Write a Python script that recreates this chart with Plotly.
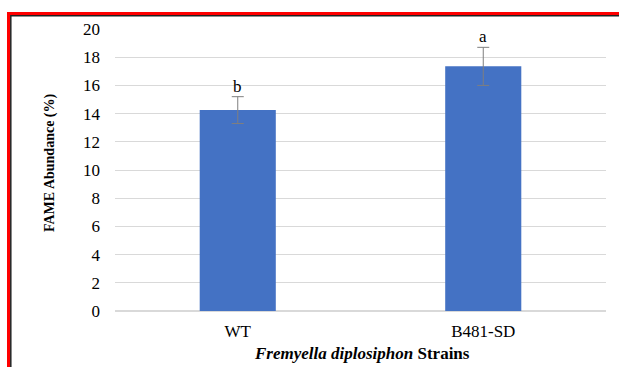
import plotly.graph_objects as go

strains = ["WT", "B481-SD"]
fame = [14.25, 17.35]
err = [0.95, 1.35]
letters = ["b", "a"]

W, H = 619, 367
L, R, T, B = 115, 13, 29, 56
pw, ph = W - L - R, H - T - B

def px(x):
    return (x - L) / pw

def py(y):
    return (H - B - y) / ph

fig = go.Figure()
fig.add_trace(go.Bar(
    x=strains, y=fame, width=0.31,
    marker=dict(color="#4472C4", line=dict(width=0)),
    error_y=dict(type="data", array=err, visible=True, color="#7F7F7F", thickness=1, width=6),
))

for s, v, e, t in zip(strains, fame, err, letters):
    fig.add_annotation(x=s, y=v + e, text=t, showarrow=False, yanchor="bottom", yshift=-1,
                       font=dict(family="Liberation Serif", size=17, color="#000"))

font = dict(family="Liberation Serif", size=17, color="#000")
fig.update_layout(
    width=W, height=H,
    margin=dict(l=L, r=R, t=T, b=B),
    paper_bgcolor="white", plot_bgcolor="white",
    showlegend=False, bargap=0.7,
    font=font,
    xaxis=dict(showline=False, ticks="", tickfont=font, ticklabelstandoff=8),
    yaxis=dict(range=[0, 20], dtick=2, gridcolor="#D9D9D9", gridwidth=1, zeroline=True, zerolinecolor="#D9D9D9",
               showline=False, tickfont=font, ticklabelstandoff=14),
)

fig.add_annotation(xref="paper", yref="paper", x=px(362), y=py(353), text="<b><i>Fremyella diplosiphon</i> Strains</b>",
                   showarrow=False, xanchor="center", yanchor="middle",
                   font=dict(family="Liberation Serif", size=17, color="#000"))
fig.add_annotation(xref="paper", yref="paper", x=px(50), y=py(163), text="<b>FAME Abundance (%)</b>",
                   showarrow=False, xanchor="center", yanchor="middle", textangle=-90,
                   font=dict(family="Liberation Serif", size=14, color="#000"))

# frame: red outer, black inner
fig.add_shape(type="rect", xref="paper", yref="paper",
              x0=px(8.5), x1=px(640), y0=py(400), y1=py(13.5),
              line=dict(color="#FF0000", width=3), fillcolor="rgba(0,0,0,0)", layer="above")
fig.add_shape(type="rect", xref="paper", yref="paper",
              x0=px(10.8), x1=px(640), y0=py(400), y1=py(15.8),
              line=dict(color="#222222", width=1.5), fillcolor="rgba(0,0,0,0)", layer="above")

fig.write_html("out.html")
